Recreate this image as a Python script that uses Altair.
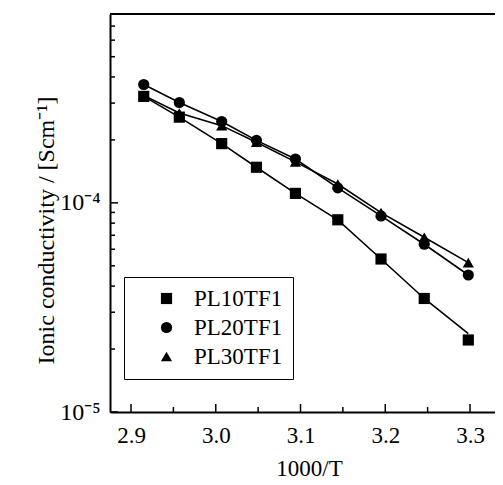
import altair as alt
import pandas as pd

# --- data ---
inv_T = [2.915, 2.957, 3.007, 3.048, 3.094, 3.144, 3.195, 3.246, 3.298]
series_names = ["PL10TF1", "PL20TF1", "PL30TF1"]
pl10 = [3.23e-4, 2.57e-4, 1.92e-4, 1.48e-4, 1.11e-4, 8.3e-5, 5.39e-5, 3.49e-5, 2.21e-5]
pl20 = [3.68e-4, 3.02e-4, 2.45e-4, 1.99e-4, 1.62e-4, 1.18e-4, 8.66e-5, 6.34e-5, 4.52e-5]
pl30 = [3.26e-4, 2.69e-4, 2.34e-4, 1.95e-4, 1.57e-4, 1.23e-4, 8.98e-5, 6.85e-5, 5.18e-5]
# fitted lines as drawn (close to the points; PL10TF1 line ends above its last point)
pl10_line = [3.23e-4, 2.57e-4, 1.92e-4, 1.48e-4, 1.11e-4, 8.3e-5, 5.39e-5, 3.49e-5, 2.37e-5]
pl20_line = pl20
pl30_line = pl30

x_major = [2.9, 3.0, 3.1, 3.2, 3.3]
x_minor = [2.95, 3.05, 3.15, 3.25]
y_major = [1e-5, 1e-4]
y_minor = [2e-5, 3e-5, 4e-5, 5e-5, 6e-5, 7e-5, 8e-5, 9e-5,
           2e-4, 3e-4, 4e-4, 5e-4, 6e-4, 7e-4, 8e-4]

X_DOM = [2.8752, 3.3295]
Y_DOM = [1e-5, 8e-4]
W, H = 385, 398
FONT = "Liberation Serif"

rows = []
for name, vals, lvals in zip(series_names, [pl10, pl20, pl30], [pl10_line, pl20_line, pl30_line]):
    for x, v, lv in zip(inv_T, vals, lvals):
        rows.append({"x": x, "y": v, "yl": lv, "series": name})
df = pd.DataFrame(rows)

xs = alt.Scale(domain=X_DOM, nice=False, zero=False)
ys = alt.Scale(type="log", domain=Y_DOM, nice=False)

x_axis = alt.Axis(values=x_major, format=".1f", ticks=False, grid=False,
                  domainColor="black", domainWidth=2, labelFont=FONT, labelFontSize=23,
                  labelColor="black", labelPadding=12, title="1000/T", titleFont=FONT,
                  titleFontSize=23, titleFontWeight="normal", titleColor="black",
                  titleX=199, titleAlign="center",
                  titleY=63, titleBaseline="alphabetic")
y_axis = alt.Axis(values=y_major, ticks=False, grid=False, domainColor="black", domainWidth=2,
                  labelExpr="datum.value < 5e-5 ? '10\u207b\u2075' : '10\u207b\u2074'",
                  labelFont=FONT, labelFontSize=24, labelColor="black", labelPadding=10,
                  labelBaseline="middle",
                  title="Ionic conductivity / [Scm\u207b\u00b9]", titleFont=FONT,
                  titleFontSize=24, titleFontWeight="normal", titleColor="black",
                  titleAngle=270, titleAlign="center", titleBaseline="bottom",
                  titleX=-52, titleY=216)

lines = alt.Chart(df).mark_line(color="black", strokeWidth=1.6).encode(
    x=alt.X("x:Q", scale=xs, axis=x_axis),
    y=alt.Y("yl:Q", scale=ys, axis=y_axis),
    detail="series:N",
)

points = alt.Chart(df).mark_point(filled=True, color="black", opacity=1, size=125).encode(
    x=alt.X("x:Q", scale=xs),
    y=alt.Y("y:Q", scale=ys),
    shape=alt.Shape("series:N",
                    scale=alt.Scale(domain=series_names, range=["square", "circle", "triangle-up"]),
                    legend=alt.Legend(title=None, orient="none", legendX=14, legendY=263,
                                      strokeColor="black", fillColor="white", padding=10,
                                      symbolOffset=21, labelOffset=16, rowPadding=5,
                                      symbolSize=125, symbolFillColor="black",
                                      symbolStrokeColor="black", symbolStrokeWidth=0,
                                      labelExpr="datum.label + '\u00a0\u00a0\u00a0\u00a0\u00a0\u00a0'",
                                      labelFont=FONT, labelFontSize=23, labelColor="black")),
)

xt_major = alt.Chart(pd.DataFrame({"v": x_major})).mark_rule(color="black", strokeWidth=1.5).encode(
    x=alt.X("v:Q", scale=xs), y=alt.value(H), y2=alt.value(H - 8))
xt_minor = alt.Chart(pd.DataFrame({"v": x_minor})).mark_rule(color="black", strokeWidth=1.5).encode(
    x=alt.X("v:Q", scale=xs), y=alt.value(H), y2=alt.value(H - 5))
yt_major = alt.Chart(pd.DataFrame({"v": y_major})).mark_rule(color="black", strokeWidth=1.5).encode(
    y=alt.Y("v:Q", scale=ys), x=alt.value(0), x2=alt.value(8))
yt_minor = alt.Chart(pd.DataFrame({"v": y_minor})).mark_rule(color="black", strokeWidth=1.5).encode(
    y=alt.Y("v:Q", scale=ys), x=alt.value(0), x2=alt.value(5))
top_border = alt.Chart(pd.DataFrame({"v": [0]})).mark_rule(color="black", strokeWidth=2).encode(
    x=alt.value(0), x2=alt.value(W), y=alt.value(0))

chart = alt.layer(top_border, xt_major, xt_minor, yt_major, yt_minor, lines, points).properties(
    width=W, height=H,
    autosize=alt.AutoSizeParams(type="none"),
    padding={"left": 102, "top": 6, "right": 0, "bottom": 72},
).configure_view(stroke=None).configure(background="white")

chart.save("out.html", embed_options={"renderer": "svg", "actions": False})
